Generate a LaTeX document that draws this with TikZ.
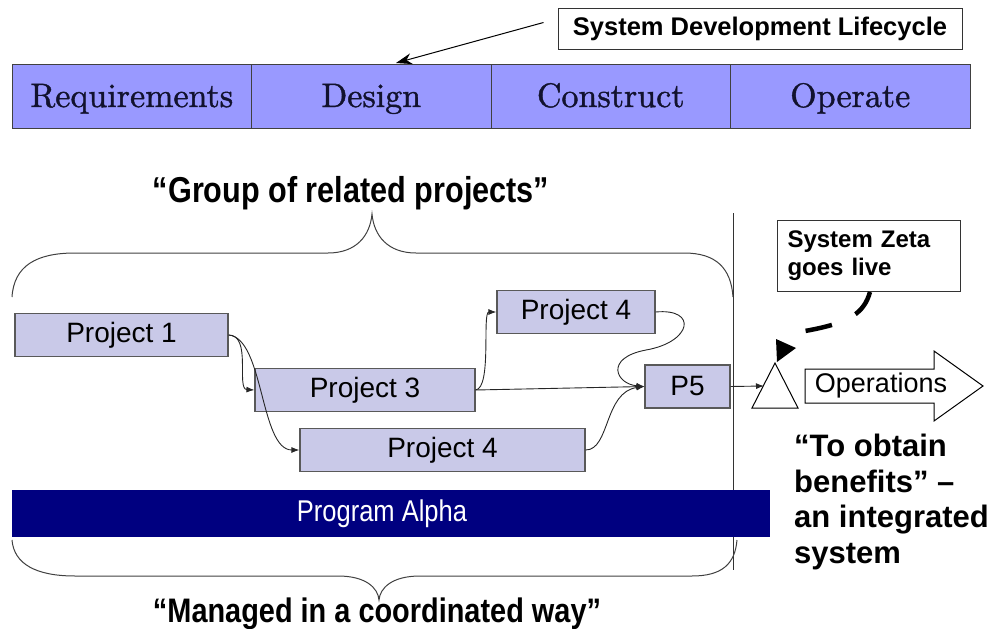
\documentclass[tikz,border=0pt]{standalone}
\usepackage{fontspec}
\newfontfamily\arial{Liberation Sans}
\newfontfamily\arialn[FakeStretch=0.85]{Liberation Sans}
\newfontfamily\phasefont{lmroman10-regular.otf}[FakeBold=1.2]
\usetikzlibrary{arrows.meta,calc}
\definecolor{phase}{HTML}{9999FF}
\definecolor{phasetext}{HTML}{12122E}
\definecolor{proj}{HTML}{C9C9E8}
\definecolor{navyband}{HTML}{000080}

\begin{document}
\begin{tikzpicture}[x=1pt,y=-1pt,
  phasebox/.style={draw=black!75, line width=1pt, fill=phase, minimum width=239.5pt,
    minimum height=64pt, inner sep=0, text=phasetext},
  phaselabel/.style={text=phasetext, font=\phasefont\fontsize{34}{40}\selectfont, anchor=base},
  projbox/.style={draw=black!65, line width=1.2pt, fill=proj, minimum height=43pt,
    inner sep=0, font=\arial\fontsize{28}{32}\selectfont},
  note/.style={draw=black!80, line width=1pt, fill=white, inner sep=0},
  flow/.style={-{Latex[length=8pt,width=6pt]}, line width=0.9pt, black!85},
  bracestyle/.style={line width=1pt, black!75},
  quote/.style={font=\arialn\bfseries\fontsize{36}{40}\selectfont, anchor=base}
]
\useasboundingbox (0,0) rectangle (997,629);

% lifecycle phases
\node[phasebox] (req) at (131.75,96) {};
\node[phasebox] (des) at (371.25,96) {};
\node[phasebox] (con) at (610.75,96) {};
\node[phasebox] (ope) at (850.25,96) {};
\node[phaselabel] (reqt) at (131.75,107) {Requirements};
\node[phaselabel] (dest) at (371.25,107) {Design};
\node[phaselabel] (cont) at (610.75,107) {Construct};
\node[phaselabel] (opet) at (850.25,107) {Operate};

% lifecycle caption with pointer
\node[note, minimum width=404pt, minimum height=41pt,
  font=\arial\bfseries\fontsize{25.5}{28}\selectfont] (sdl) at (760,28.5) {System Development Lifecycle};
\coordinate (desTop) at (396,63);
\draw[-{Stealth[length=16pt,width=11pt]}, line width=1pt]
  ($(sdl.west)+(-14,-6)$) -- (desTop);

% upper brace and caption
\node[quote] (grp) at (351,202) {“Group of related projects”};
\draw[bracestyle] (12,297) .. controls (14,266) and (36,253) .. (75,253) -- (328,253)
  .. controls (356,253) and (370,236) .. (372,214)
  .. controls (374,236) and (388,253) .. (416,253) -- (684,253)
  .. controls (716,253) and (731,268) .. (733,297);

% cut-over line
\draw[line width=1pt, black!80] (733,213) -- (733,570);

% projects
\node[projbox, minimum width=213pt] (p1) at (121.5,335) {Project 1};
\node[projbox, minimum width=220pt] (p3) at (365,390) {Project 3};
\node[projbox, minimum width=158pt] (p4a) at (576,312) {Project 4};
\node[projbox, minimum width=285pt] (p4b) at (442.5,450) {Project 4};
\node[projbox, minimum width=85pt] (p5) at (687.5,386.5) {P5};

% dependencies
\draw[flow] (p1.east) .. controls (252,335) and (236,389) .. (p3.west);
\draw[flow] (p1.east) .. controls (264,338) and (260,450) .. (p4b.west);
\draw[flow] (p3.east) .. controls (492,388) and (482,312) .. (p4a.west);
\draw[flow] (p3.east) -- (p5.west);
\draw[flow] (p4a.east) .. controls (698,308) and (692,342) .. (646,350)
  .. controls (604,358) and (616,384) .. (p5.west);
\draw[flow] (p4b.east) .. controls (610,450) and (604,392) .. (p5.west);

% go-live milestone
\coordinate (ms) at (764,386);
\draw[line width=1pt, fill=white] (775,363) -- (798,408) -- (752,408) -- cycle;
\fill (776,339) -- (796,348) -- (777,362) -- cycle;
\draw[flow] (p5.east) -- (ms);

\node[note, minimum width=183pt, minimum height=71pt, text width=162pt, align=left,
  font=\arial\bfseries\fontsize{24}{28}\selectfont] (zeta) at (868.5,255.5) {System Zeta\\goes live};
\coordinate (zetaOut) at (870,292);
\draw[line width=4.5pt, dash pattern=on 27pt off 26pt]
  (zetaOut) .. controls (864,313) and (850,323) .. (805,331);

% operations arrow
\draw[line width=1pt, fill=white] (805,369) -- (934,369) -- (934,351) -- (983,386)
  -- (934,421) -- (934,403) -- (805,403) -- cycle;
\node[font=\arial\fontsize{27}{30}\selectfont] (ops) at (881,386) {Operations};

\node[anchor=north west, align=left, inner sep=0,
  font=\arial\bfseries\fontsize{31}{35.5}\selectfont] (ben) at (794,434)
  {“To obtain\\benefits” –\\an integrated\\system};

% programme band
\node[fill=navyband, minimum width=758pt, minimum height=47pt, inner sep=0] (pa) at (391,513.5) {};
\node[text=white, font=\arialn\fontsize{30}{34}\selectfont] (patext) at (382,513.5) {Program Alpha};

% lower brace and caption
\draw[bracestyle] (12,540) .. controls (14,564) and (36,576) .. (75,576) -- (338,576)
  .. controls (366,576) and (378,588) .. (379,600)
  .. controls (380,588) and (392,576) .. (420,576) -- (692,576)
  .. controls (722,576) and (735,564) .. (737,540);
\node[quote, font=\arialn\bfseries\fontsize{34}{38}\selectfont] (man) at (377,622) {“Managed in a coordinated way”};
\end{tikzpicture}
\end{document}
